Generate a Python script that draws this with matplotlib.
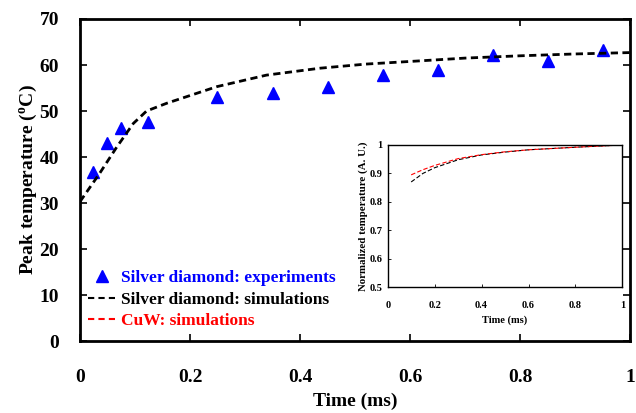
import matplotlib
matplotlib.use("Agg")
import matplotlib.pyplot as plt
from matplotlib.lines import Line2D

plt.rcParams['font.family'] = ['Liberation Serif', 'DejaVu Serif']
plt.rcParams['font.weight'] = 'bold'
plt.rcParams['mathtext.fontset'] = 'custom'
plt.rcParams['mathtext.rm'] = 'Liberation Serif:bold'
plt.rcParams['mathtext.bf'] = 'Liberation Serif:bold'

# Experimental data (Silver diamond)
exp_time = [0.024, 0.049, 0.075, 0.124, 0.249, 0.351, 0.451, 0.551, 0.651, 0.751, 0.851, 0.951]
exp_temp = [36.7, 43.0, 46.3, 47.6, 53.0, 53.9, 55.2, 57.8, 58.9, 62.2, 60.9, 63.3]

# Simulation (Silver diamond)
sim_time = [0.0, 0.036, 0.067, 0.097, 0.121, 0.158, 0.249, 0.339, 0.436, 0.52, 0.618, 0.7, 0.8, 0.9, 1.0]
sim_temp = [30.3, 36.5, 42.2, 47.3, 50.0, 51.7, 55.3, 57.8, 59.3, 60.2, 60.9, 61.5, 62.0, 62.4, 62.7]

# Inset: normalized temperature
ins_time = [0.1, 0.15, 0.2, 0.3, 0.4, 0.5, 0.6, 0.8, 1.0]
ins_sd = [0.870, 0.900, 0.920, 0.948, 0.965, 0.975, 0.983, 0.992, 1.0]
ins_cuw = [0.895, 0.913, 0.928, 0.952, 0.966, 0.976, 0.983, 0.992, 1.0]

x_ticks = [0, 0.2, 0.4, 0.6, 0.8, 1]
x_ticklabels = ['0', '0.2', '0.4', '0.6', '0.8', '1']
y_ticks = [0, 10, 20, 30, 40, 50, 60, 70]
ins_y_ticks = [0.5, 0.6, 0.7, 0.8, 0.9, 1.0]
ins_y_ticklabels = ['0.5', '0.6', '0.7', '0.8', '0.9', '1']

fig = plt.figure(figsize=(6.36, 4.13), dpi=100)
ax = fig.add_axes([0.1258, 0.1743, 0.8648, 0.7797])

ax.plot(exp_time, exp_temp, linestyle='none', marker='^', color='#0000ff', markersize=9)
ax.plot(sim_time, sim_temp, color='black', linestyle=(0, (2.6, 1.6)), linewidth=2)

ax.set_xlim(0, 1)
ax.set_ylim(0, 70)
ax.set_xticks(x_ticks)
ax.set_xticklabels(x_ticklabels)
ax.set_yticks(y_ticks)
ax.tick_params(direction='in', length=5, width=1.2, top=True, right=True,
               labelsize=14, pad=8)
ax.tick_params(axis='x', pad=20)
ax.tick_params(axis='y', pad=15)
for s in ax.spines.values():
    s.set_linewidth(2)
ax.set_xlabel('Time (ms)', fontsize=14, fontweight='bold', labelpad=5)
ax.set_ylabel(r'Peak temperature ($^{\mathrm{o}}$C)', fontsize=14, fontweight='bold', labelpad=0)

handles = [
    Line2D([], [], linestyle='none', marker='^', color='#0000ff', markersize=8),
    Line2D([], [], color='black', linestyle=(0, (3, 2)), linewidth=1.5),
    Line2D([], [], color='red', linestyle=(0, (3, 2)), linewidth=1.5),
]
labels = ['Silver diamond: experiments', 'Silver diamond: simulations', 'CuW: simulations']
leg = ax.legend(handles, labels, loc='lower left', bbox_to_anchor=(-0.005, 0.005),
                frameon=False, fontsize=12.5, handlelength=1.6, handletextpad=0.3,
                labelspacing=0.3, borderaxespad=0.2,
                labelcolor=['#0000ff', 'black', 'red'])

# Inset
ins = fig.add_axes([0.6096, 0.3044, 0.369, 0.3446])
ins.plot(ins_time, ins_sd, color='black', linestyle=(0, (4, 2)), linewidth=0.8)
ins.plot(ins_time, ins_cuw, color='red', linestyle=(0, (4, 2)), linewidth=0.8)
ins.set_xlim(0, 1)
ins.set_ylim(0.5, 1)
ins.set_xticks(x_ticks)
ins.set_xticklabels(x_ticklabels)
ins.set_yticks(ins_y_ticks)
ins.set_yticklabels(ins_y_ticklabels)
ins.tick_params(direction='in', length=2.5, width=0.6, labelsize=7.5)
ins.tick_params(axis='x', pad=10)
ins.tick_params(axis='y', pad=4)
for s in ins.spines.values():
    s.set_linewidth(1)
ins.set_xlabel('Time (ms)', fontsize=7.5, fontweight='bold', labelpad=4)
ins.set_ylabel('Normalized temperature (A. U.)', fontsize=7.8, fontweight='bold', labelpad=1)

fig.savefig('out.png', dpi=100)
